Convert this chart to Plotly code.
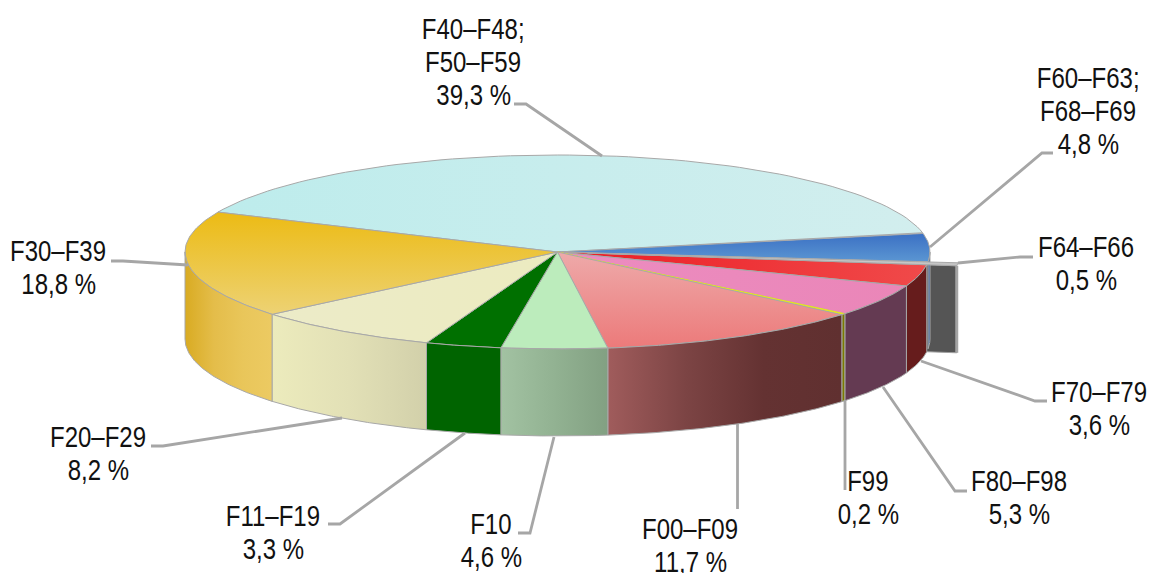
import numpy as np
import plotly.graph_objects as go

codes = [["F40–F48;", "F50–F59"], ["F60–F63;", "F68–F69"], ["F64–F66"], ["F70–F79"], ["F80–F98"],
         ["F99"], ["F00–F09"], ["F10"], ["F11–F19"], ["F20–F29"], ["F30–F39"]]
shares = [39.3, 4.8, 0.5, 3.6, 5.3, 0.2, 11.7, 4.6, 3.3, 8.2, 18.8]
share_labels = ["39,3 %", "4,8 %", "0,5 %", "3,6 %", "5,3 %", "0,2 %", "11,7 %", "4,6 %", "3,3 %", "8,2 %", "18,8 %"]

top_colors = [("#bdecec", "#d2eeee"), ("#5b96d2", "#3b70c4"), ("#d0d0d0", "#c4c4c4"), ("#ec1c24", "#f04a4a"),
              ("#ec8cc0", "#ea86b8"), ("#e8e820", "#e8e820"), ("#ec7a7a", "#eeaaaa"), ("#bcecbc", "#bcecbc"),
              ("#007000", "#007000"), ("#ecebc8", "#ecebc0"), ("#edd274", "#ecbb14")]
top_dirs = ["horizontal", "vertical", "horizontal", "horizontal", "horizontal", "horizontal",
            "vertical", "horizontal", "horizontal", "horizontal", "vertical"]
side_colors = {
    1: ("#2f5a9c", "#2f5a9c"),
    3: ("#661c1c", "#661c1c"),
    4: ("#643a52", "#643a52"),
    5: ("#7a7a00", "#7a7a00"),
    6: ("#a05c5c", "#7c4444", "#643232", "#603030"),
    7: ("#a2c2a2", "#92b292", "#82a082"),
    8: ("#006400", "#006400"),
    9: ("#ecebbc", "#e2e0b6", "#d2d0aa"),
    10: ("#d9ab22", "#e4bd4a", "#e9c65a", "#ecca62"),
}

CX, CY, RX, RY, DEPTH, START = 557.5, 252, 372.5, 97, 87, 152.5
BACK_EDGE = 155.7
EDGE = "#a8a8a8"
LEAD = "#a6a6a6"

deg = np.array(shares) * 360 / sum(shares)
ends = START - np.cumsum(deg)
starts = ends + deg
starts[0] = BACK_EDGE
ends[-1] = BACK_EDGE - 360


def arc(t0, t1, n=80, dx=0, dy=0):
    t = np.radians(np.linspace(t0, t1, n))
    return CX + dx + RX * np.cos(t), CY + dy - RY * np.sin(t)


def poly(fig, x, y, colors, line=EDGE, width=1, kind="horizontal"):
    stops = [[k / (len(colors) - 1), c] for k, c in enumerate(colors)]
    fig.add_trace(go.Scatter(
        x=np.append(x, x[0]), y=np.append(y, y[0]), mode="lines", fill="toself",
        line=dict(color=line, width=width), hoverinfo="skip", showlegend=False,
        fillgradient=dict(type=kind, colorscale=stops),
    ))


def top(fig, i, dx=0, dy=0, line=EDGE):
    ax, ay = arc(starts[i], ends[i], dx=dx, dy=dy)
    poly(fig, np.r_[CX + dx, ax], np.r_[CY + dy, ay], top_colors[i], line, kind=top_dirs[i])


def side(fig, i):
    a, b = min(starts[i], 0), max(ends[i], -180)
    if a <= b:
        return
    ax, ay = arc(a, b)
    poly(fig, np.r_[ax, ax[::-1]], np.r_[ay, ay[::-1] + DEPTH], side_colors[i])


fig = go.Figure()

# pulled-out slice: cut face and rim drawn behind the pie
EXP_DX, EXP_DY = 30, 1
ex = 2
ox, oy = arc(ends[ex], ends[ex], n=1, dx=EXP_DX, dy=EXP_DY)
poly(fig, np.r_[CX + EXP_DX, ox, ox, CX + EXP_DX],
     np.r_[CY + EXP_DY, oy, oy + DEPTH, CY + EXP_DY + DEPTH], ("#555555", "#555555"), line="#a0a0a0", width=1)
fig.add_trace(go.Scatter(x=[ox[0], ox[0]], y=[oy[0], oy[0] + DEPTH], mode="lines",
                         line=dict(color="#a4a4a4", width=3), hoverinfo="skip", showlegend=False))

for i in [0, 1, 3, 4, 5, 6, 7, 8, 9, 10]:
    top(fig, i, line="#e6e620" if i == 5 else EDGE)
for i in side_colors:
    side(fig, i)
top(fig, ex, EXP_DX, EXP_DY)

# leader lines
leaders = {
    0: [(514, 104), (526, 104), (602, 156)],
    1: [(1053, 153), (1042, 153), (930, 247)],
    2: [(1033, 257), (1020, 257), (958, 263)],
    3: [(1047, 401), (1035, 401), (921, 361)],
    4: [(967, 491), (955, 491), (883, 387)],
    5: [(845, 490), (845, 400)],
    6: [(737.5, 509), (737.5, 424)],
    7: [(518, 533), (530, 533), (554, 437)],
    8: [(328, 524), (340, 524), (465, 433)],
    9: [(151, 446), (163, 446), (342, 418)],
    10: [(111, 261), (123, 261), (188, 265)],
}
for pts in leaders.values():
    fig.add_trace(go.Scatter(x=[p[0] for p in pts], y=[p[1] for p in pts], mode="lines",
                             line=dict(color=LEAD, width=2.8), hoverinfo="skip", showlegend=False))

LINE_STEP = 33
label_pos = {0: (473, 61), 1: (1088, 110), 2: (1086, 263), 3: (1099, 408), 4: (1019, 497),
             5: (868, 497), 6: (690, 545), 7: (491, 540), 8: (273, 532), 9: (98, 453), 10: (58, 267)}
for i, (x, y) in label_pos.items():
    lines = codes[i] + [share_labels[i]]
    for k, text in enumerate(lines):
        fig.add_annotation(x=x, y=y + (k - (len(lines) - 1) / 2) * LINE_STEP, text=text, showarrow=False,
                           xanchor="center", yanchor="middle", font=dict(size=30, color="#111111"))

fig.update_layout(
    width=1151, height=573, margin=dict(l=0, r=0, t=0, b=0),
    paper_bgcolor="white", plot_bgcolor="white",
    font=dict(family="Liberation Sans"),
    xaxis=dict(range=[0, 1151], visible=False, fixedrange=True),
    yaxis=dict(range=[573, 0], visible=False, fixedrange=True),
)

# body margin off; the reference's labels are set in a narrow cut, so condense them horizontally
post = """
document.body.style.margin='0';document.documentElement.style.overflow='hidden';
function narrow(){document.querySelectorAll('text.annotation-text').forEach(function(t){
  var b=t.getBBox(),c=b.x+b.width/2;
  t.setAttribute('transform','translate('+c+' 0) scale(0.8 1) translate('+(-c)+' 0)');});}
var gd=document.getElementById('{plot_id}');
narrow();setTimeout(narrow,0);
if(gd&&gd.on){gd.on('plotly_afterplot',narrow);}
"""
fig.write_html("out.html", config={"displayModeBar": False}, post_script=post)
